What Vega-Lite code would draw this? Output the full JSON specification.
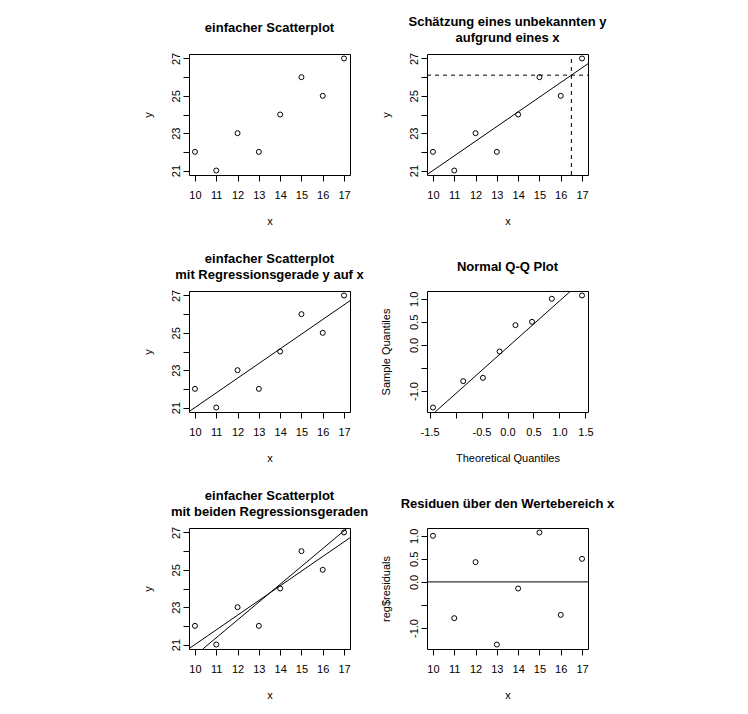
{
  "$schema": "https://vega.github.io/schema/vega-lite/v6.json",
  "background": "white",
  "padding": {"left": 141, "top": 15, "right": 5, "bottom": 5},
  "datasets": {
    "pts": [
      {"x": 10, "y": 22}, {"x": 11, "y": 21}, {"x": 12, "y": 23}, {"x": 13, "y": 22},
      {"x": 14, "y": 24}, {"x": 15, "y": 26}, {"x": 16, "y": 25}, {"x": 17, "y": 27}
    ],
    "fit": [{"x": 9.72, "y": 20.78}, {"x": 17.28, "y": 26.72}],
    "fit2": [{"x": 10.3676, "y": 20.76}, {"x": 17.1562, "y": 27.24}],
    "hline": [{"x": 9.72, "y": 26.1071}, {"x": 17.28, "y": 26.1071}],
    "vline": [{"x": 16.5, "y": 20.76}, {"x": 16.5, "y": 27.24}],
    "qq": [
      {"t": -1.4342, "s": -1.357143}, {"t": -0.8524, "s": -0.785714},
      {"t": -0.4728, "s": -0.714286}, {"t": -0.1525, "s": -0.142857},
      {"t": 0.1525, "s": 0.428571}, {"t": 0.4728, "s": 0.5},
      {"t": 0.8524, "s": 1.0}, {"t": 1.4342, "s": 1.071429}
    ],
    "qqline": [{"t": -1.3923, "s": -1.454286}, {"t": 1.2148, "s": 1.168571}],
    "resid": [
      {"x": 10, "r": 1.0}, {"x": 11, "r": -0.785714}, {"x": 12, "r": 0.428571},
      {"x": 13, "r": -1.357143}, {"x": 14, "r": -0.142857}, {"x": 15, "r": 1.071429},
      {"x": 16, "r": -0.714286}, {"x": 17, "r": 0.5}
    ],
    "zero": [{"x": 9.72, "r": 0}, {"x": 17.28, "r": 0}]
  },
  "columns": 2,
  "spacing": {"row": 116, "column": 77},
  "bounds": "flush",
  "concat": [
    {
      "width": 161, "height": 121,
      "title": {"text": "einfacher Scatterplot", "offset": 17},
      "data": {"name": "pts"},
      "mark": {"type": "point", "shape": "circle", "filled": false, "size": 25, "color": "black", "strokeWidth": 1, "opacity": 1},
      "encoding": {
        "x": {"field": "x", "type": "quantitative", "title": "x", "scale": {"domain": [9.72, 17.28], "nice": false, "zero": false}, "axis": {"values": [10, 11, 12, 13, 14, 15, 16, 17]}},
        "y": {"field": "y", "type": "quantitative", "title": "y", "scale": {"domain": [20.76, 27.24], "nice": false, "zero": false}, "axis": {"values": [21, 22, 23, 24, 25, 26, 27], "labelExpr": "datum.value % 2 == 1 ? datum.label : ''"}}
      }
    },
    {
      "width": 161, "height": 121,
      "title": {"text": ["Schätzung eines unbekannten y", "aufgrund eines x"], "offset": 7},
      "encoding": {
        "x": {"field": "x", "type": "quantitative", "title": "x", "scale": {"domain": [9.72, 17.28], "nice": false, "zero": false}, "axis": {"values": [10, 11, 12, 13, 14, 15, 16, 17]}},
        "y": {"field": "y", "type": "quantitative", "title": "y", "scale": {"domain": [20.76, 27.24], "nice": false, "zero": false}, "axis": {"values": [21, 22, 23, 24, 25, 26, 27], "labelExpr": "datum.value % 2 == 1 ? datum.label : ''"}}
      },
      "layer": [
        {"data": {"name": "pts"}, "mark": {"type": "point", "shape": "circle", "filled": false, "size": 25, "color": "black", "strokeWidth": 1, "opacity": 1}},
        {"data": {"name": "fit"}, "mark": {"type": "line", "color": "black", "strokeWidth": 1, "clip": true}},
        {"data": {"name": "hline"}, "mark": {"type": "line", "color": "black", "strokeWidth": 1, "strokeDash": [4, 4], "clip": true}},
        {"data": {"name": "vline"}, "mark": {"type": "line", "color": "black", "strokeWidth": 1, "strokeDash": [4, 4], "clip": true}}
      ]
    },
    {
      "width": 161, "height": 121,
      "title": {"text": ["einfacher Scatterplot", "mit Regressionsgerade y auf x"], "offset": 7},
      "encoding": {
        "x": {"field": "x", "type": "quantitative", "title": "x", "scale": {"domain": [9.72, 17.28], "nice": false, "zero": false}, "axis": {"values": [10, 11, 12, 13, 14, 15, 16, 17]}},
        "y": {"field": "y", "type": "quantitative", "title": "y", "scale": {"domain": [20.76, 27.24], "nice": false, "zero": false}, "axis": {"values": [21, 22, 23, 24, 25, 26, 27], "labelExpr": "datum.value % 2 == 1 ? datum.label : ''"}}
      },
      "layer": [
        {"data": {"name": "pts"}, "mark": {"type": "point", "shape": "circle", "filled": false, "size": 25, "color": "black", "strokeWidth": 1, "opacity": 1}},
        {"data": {"name": "fit"}, "mark": {"type": "line", "color": "black", "strokeWidth": 1, "clip": true}}
      ]
    },
    {
      "width": 161, "height": 121,
      "title": {"text": "Normal Q-Q Plot", "offset": 17},
      "encoding": {
        "x": {"field": "t", "type": "quantitative", "title": "Theoretical Quantiles", "scale": {"domain": [-1.5489, 1.5489], "nice": false, "zero": false}, "axis": {"values": [-1.5, -1, -0.5, 0, 0.5, 1, 1.5], "labelExpr": "datum.value == -1 ? '' : replace(format(datum.value, '.1f'), '\u2212', '-')"}},
        "y": {"field": "s", "type": "quantitative", "title": "Sample Quantiles", "scale": {"domain": [-1.454286, 1.168571], "nice": false, "zero": false}, "axis": {"values": [-1, -0.5, 0, 0.5, 1], "labelExpr": "datum.value == -0.5 ? '' : replace(format(datum.value, '.1f'), '\u2212', '-')"}}
      },
      "layer": [
        {"data": {"name": "qq"}, "mark": {"type": "point", "shape": "circle", "filled": false, "size": 25, "color": "black", "strokeWidth": 1, "opacity": 1}},
        {"data": {"name": "qqline"}, "mark": {"type": "line", "color": "black", "strokeWidth": 1, "clip": true}}
      ]
    },
    {
      "width": 161, "height": 121,
      "title": {"text": ["einfacher Scatterplot", "mit beiden Regressionsgeraden"], "offset": 7},
      "encoding": {
        "x": {"field": "x", "type": "quantitative", "title": "x", "scale": {"domain": [9.72, 17.28], "nice": false, "zero": false}, "axis": {"values": [10, 11, 12, 13, 14, 15, 16, 17]}},
        "y": {"field": "y", "type": "quantitative", "title": "y", "scale": {"domain": [20.76, 27.24], "nice": false, "zero": false}, "axis": {"values": [21, 22, 23, 24, 25, 26, 27], "labelExpr": "datum.value % 2 == 1 ? datum.label : ''"}}
      },
      "layer": [
        {"data": {"name": "pts"}, "mark": {"type": "point", "shape": "circle", "filled": false, "size": 25, "color": "black", "strokeWidth": 1, "opacity": 1}},
        {"data": {"name": "fit"}, "mark": {"type": "line", "color": "black", "strokeWidth": 1, "clip": true}},
        {"data": {"name": "fit2"}, "mark": {"type": "line", "color": "black", "strokeWidth": 1, "clip": true}}
      ]
    },
    {
      "width": 161, "height": 121,
      "title": {"text": "Residuen über den Wertebereich x", "offset": 17},
      "encoding": {
        "x": {"field": "x", "type": "quantitative", "title": "x", "scale": {"domain": [9.72, 17.28], "nice": false, "zero": false}, "axis": {"values": [10, 11, 12, 13, 14, 15, 16, 17]}},
        "y": {"field": "r", "type": "quantitative", "title": "reg$residuals", "scale": {"domain": [-1.454286, 1.168571], "nice": false, "zero": false}, "axis": {"values": [-1, -0.5, 0, 0.5, 1], "labelExpr": "datum.value == -0.5 ? '' : replace(format(datum.value, '.1f'), '\u2212', '-')"}}
      },
      "layer": [
        {"data": {"name": "resid"}, "mark": {"type": "point", "shape": "circle", "filled": false, "size": 25, "color": "black", "strokeWidth": 1, "opacity": 1}},
        {"data": {"name": "zero"}, "mark": {"type": "line", "color": "black", "strokeWidth": 1, "clip": true}}
      ]
    }
  ],
  "config": {
    "font": "Liberation Sans",
    "view": {"stroke": "black", "strokeWidth": 1},
    "axis": {
      "grid": false, "domain": false, "ticks": true, "tickColor": "black", "tickSize": 6, "tickWidth": 1,
      "labelColor": "black", "labelFont": "Liberation Sans", "labelFontSize": 11,
      "labelFlush": false, "labelOverlap": false,
      "titleFont": "Liberation Sans", "titleFontSize": 11, "titleFontWeight": "normal", "titleColor": "black"
    },
    "axisX": {"labelPadding": 8, "titleY": 46, "titleBaseline": "middle"},
    "axisY": {"labelAngle": -90, "labelAlign": "center", "labelBaseline": "bottom", "labelPadding": 2, "titleX": -41, "titleBaseline": "middle"},
    "title": {"font": "Liberation Sans", "fontSize": 13, "fontWeight": "bold", "color": "black", "anchor": "middle", "frame": "group", "baseline": "middle", "lineHeight": 16}
  }
}
